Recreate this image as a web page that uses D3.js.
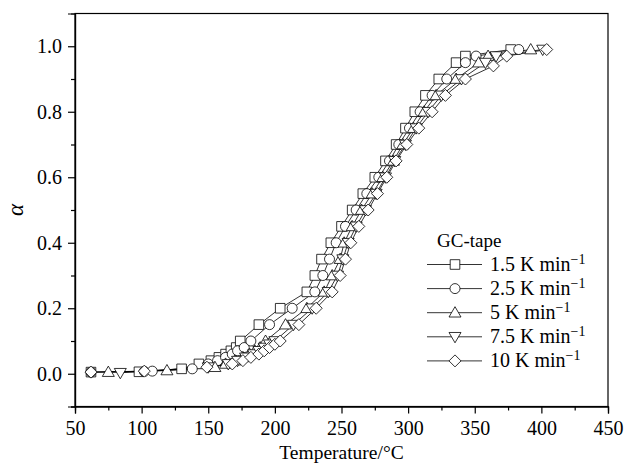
<!DOCTYPE html>
<html><head><meta charset="utf-8">
<script src="https://cdn.jsdelivr.net/npm/d3@7"></script>
<style>body{margin:0;background:#fff}svg{display:block}</style>
</head><body>
<svg id="c" width="624" height="465"></svg>
<script>
// ---- data ----
const legendTitle = "GC-tape";
const rateLabels = ["1.5", "2.5", "5", "7.5", "10"];
const markerKinds = ["square", "circle", "triangle", "triangleDown", "diamond"];

const temp1_5  = [62, 98, 130, 143, 152, 158, 163, 167, 171, 174, 188, 204, 224, 230, 235, 242, 250, 258, 266, 275, 283, 291, 298, 305, 313, 323, 336, 343, 377];
const alpha1_5 = [0.005, 0.006, 0.015, 0.03, 0.04, 0.05, 0.06, 0.07, 0.08, 0.10, 0.15, 0.20, 0.25, 0.30, 0.35, 0.40, 0.45, 0.50, 0.55, 0.60, 0.65, 0.70, 0.75, 0.80, 0.85, 0.90, 0.95, 0.97, 0.99];

const temp2_5  = [62, 102, 108, 138, 150, 157, 163, 168, 172, 177, 182, 196, 213, 230, 236, 241, 246, 253, 261, 269, 278, 286, 293, 301, 309, 318, 329, 343, 351, 383];
const alpha2_5 = [0.005, 0.007, 0.008, 0.015, 0.03, 0.04, 0.05, 0.06, 0.07, 0.08, 0.10, 0.15, 0.20, 0.25, 0.30, 0.35, 0.40, 0.45, 0.50, 0.55, 0.60, 0.65, 0.70, 0.75, 0.80, 0.85, 0.90, 0.95, 0.97, 0.99];

const temp5    = [75, 119, 155, 163, 170, 176, 181, 185, 189, 193, 208, 224, 237, 243, 249, 252, 258, 265, 273, 281, 289, 296, 304, 312, 321, 336, 353, 360, 392];
const alpha5   = [0.005, 0.01, 0.02, 0.03, 0.04, 0.05, 0.06, 0.07, 0.08, 0.10, 0.15, 0.20, 0.25, 0.30, 0.35, 0.40, 0.45, 0.50, 0.55, 0.60, 0.65, 0.70, 0.75, 0.80, 0.85, 0.90, 0.95, 0.97, 0.99];

const temp7_5  = [84, 150, 165, 172, 178, 184, 188, 192, 196, 200, 214, 228, 240, 247, 251, 255, 261, 268, 276, 283, 290, 298, 306, 315, 325, 340, 358, 366, 401];
const alpha7_5 = [0.003, 0.02, 0.03, 0.04, 0.05, 0.06, 0.07, 0.08, 0.09, 0.10, 0.15, 0.20, 0.25, 0.30, 0.35, 0.40, 0.45, 0.50, 0.55, 0.60, 0.65, 0.70, 0.75, 0.80, 0.85, 0.90, 0.95, 0.97, 0.99];

const temp10   = [62, 102, 149, 168, 176, 182, 188, 192, 196, 200, 204, 218, 231, 243, 249, 253, 257, 263, 270, 277, 284, 291, 299, 308, 318, 328, 343, 364, 374, 404];
const alpha10  = [0.005, 0.008, 0.02, 0.03, 0.04, 0.05, 0.06, 0.07, 0.08, 0.09, 0.10, 0.15, 0.20, 0.25, 0.30, 0.35, 0.40, 0.45, 0.50, 0.55, 0.60, 0.65, 0.70, 0.75, 0.80, 0.85, 0.90, 0.94, 0.97, 0.99];

const xTicks = [50, 100, 150, 200, 250, 300, 350, 400, 450];
const xMinorTicks = [75, 125, 175, 225, 275, 325, 375, 425];
const yTicks = [0.0, 0.2, 0.4, 0.6, 0.8, 1.0];
const yMinorTicks = [-0.1, 0.1, 0.3, 0.5, 0.7, 0.9];
const xTitle = "Temperature/°C";
const yTitle = "α";

const seriesTemps = [temp1_5, temp2_5, temp5, temp7_5, temp10];
const seriesAlphas = [alpha1_5, alpha2_5, alpha5, alpha7_5, alpha10];

// ---- layout ----
const W = 624, H = 465;
const m = {l: 75, r: 16, t: 13.5, b: 58.5};
const svg = d3.select("#c");
const x = d3.scaleLinear().domain([50, 450]).range([m.l, W - m.r]);
const y = d3.scaleLinear().domain([-0.1, 1.1]).range([H - m.b, m.t]);
const FONT = "'Liberation Serif','Times New Roman',serif";

// frame
svg.append("rect").attr("x", m.l).attr("y", m.t)
  .attr("width", W - m.r - m.l).attr("height", H - m.b - m.t)
  .attr("fill", "none").attr("stroke", "#000").attr("stroke-width", 1.2);

// x axis
const gx = svg.append("g").attr("transform", `translate(0,${H - m.b})`)
  .call(d3.axisBottom(x).tickValues(xTicks).tickSize(7).tickPadding(7).tickFormat(d3.format("d")));
gx.append("g").call(d3.axisBottom(x).tickValues(xMinorTicks).tickSize(4).tickFormat(""));
// y axis
const gy = svg.append("g").attr("transform", `translate(${m.l},0)`)
  .call(d3.axisLeft(y).tickValues(yTicks).tickSize(7).tickPadding(6).tickFormat(d3.format(".1f")));
gy.append("g").call(d3.axisLeft(y).tickValues(yMinorTicks).tickSize(4).tickFormat(""));

svg.selectAll(".domain").attr("stroke", "#000").attr("stroke-width", 1.2);
svg.selectAll(".tick line").attr("stroke", "#000").attr("stroke-width", 1.2);
svg.selectAll(".tick text").attr("font-family", FONT).attr("font-size", 20).attr("fill", "#000");

svg.append("text").attr("x", (m.l + W - m.r) / 2).attr("y", 459)
  .attr("text-anchor", "middle").attr("font-family", FONT).attr("font-size", 19.5).text(xTitle);
svg.append("text").attr("transform", `translate(23,${y(0.5)}) rotate(-90)`)
  .attr("text-anchor", "middle").attr("font-family", FONT).attr("font-style", "italic")
  .attr("font-size", 23).text(yTitle);

// markers
function markerPath(kind) {
  const p = d3.path();
  if (kind === "square") { const s = 4.8; p.rect(-s, -s, 2 * s, 2 * s); }
  else if (kind === "circle") { p.arc(0, 0, 5, 0, 2 * Math.PI); }
  else if (kind === "triangle") { const s = 6; p.moveTo(0, -s); p.lineTo(s, s * 0.72); p.lineTo(-s, s * 0.72); p.closePath(); }
  else if (kind === "triangleDown") { const s = 6; p.moveTo(0, s); p.lineTo(s, -s * 0.72); p.lineTo(-s, -s * 0.72); p.closePath(); }
  else { const s = 6; p.moveTo(0, -s); p.lineTo(s, 0); p.lineTo(0, s); p.lineTo(-s, 0); p.closePath(); }
  return p.toString();
}

const line = d3.line().x(d => x(d[0])).y(d => y(d[1]));
const plot = svg.append("g");
seriesTemps.forEach((ts, i) => {
  const pts = ts.map((t, k) => [t, seriesAlphas[i][k]]);
  plot.append("path").datum(pts).attr("d", line)
    .attr("fill", "none").attr("stroke", "#000").attr("stroke-width", 0.8);
});
seriesTemps.forEach((ts, i) => {
  const pts = ts.map((t, k) => [t, seriesAlphas[i][k]]);
  plot.selectAll(null).data(pts).enter().append("path")
    .attr("transform", d => `translate(${x(d[0])},${y(d[1])})`)
    .attr("d", markerPath(markerKinds[i]))
    .attr("fill", "#fff").attr("stroke", "#000").attr("stroke-width", 0.8);
});

// legend
const lg = svg.append("g");
lg.append("text").attr("x", 437).attr("y", 247).attr("font-family", FONT).attr("font-size", 19).text(legendTitle);
rateLabels.forEach((r, i) => {
  const cy = 264.5 + i * 24.1;
  lg.append("line").attr("x1", 427).attr("x2", 482).attr("y1", cy).attr("y2", cy)
    .attr("stroke", "#000").attr("stroke-width", 0.8);
  lg.append("path").attr("transform", `translate(455,${cy})`).attr("d", markerPath(markerKinds[i]))
    .attr("fill", "#fff").attr("stroke", "#000").attr("stroke-width", 0.8);
  const t = lg.append("text").attr("x", 490).attr("y", cy + 6.5).attr("font-family", FONT).attr("font-size", 20);
  t.append("tspan").text(r + " K min");
  t.append("tspan").attr("dy", -7.5).attr("font-size", 14).text("−1");
});
</script>
</body></html>
